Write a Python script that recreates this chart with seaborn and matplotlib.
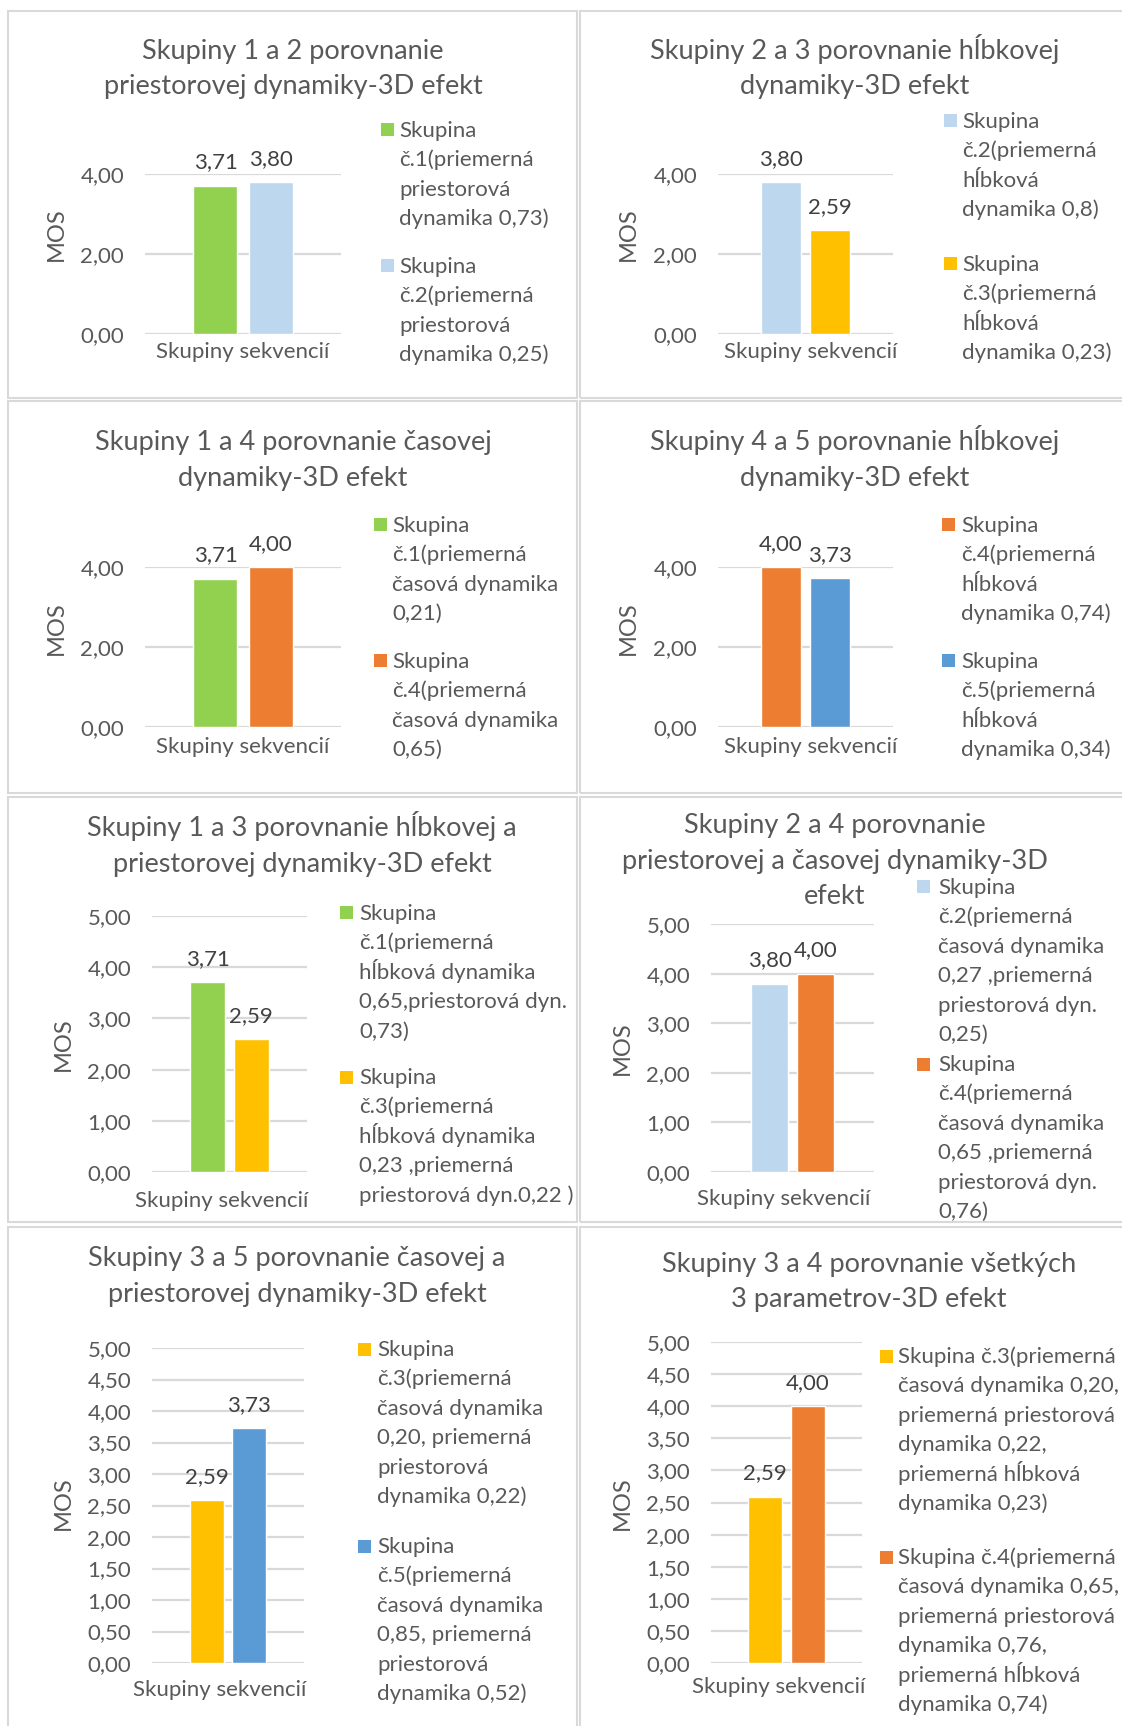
import numpy as np
import pandas as pd
import seaborn as sns
import matplotlib
matplotlib.use("Agg")
import matplotlib.pyplot as plt
import matplotlib.transforms as mtransforms
from matplotlib.patches import Rectangle

# ---------------------------------------------------------------- data
titles = [
    "Skupiny 1 a 2 porovnanie\npriestorovej dynamiky-3D efekt",
    "Skupiny 2 a 3 porovnanie hĺbkovej\ndynamiky-3D efekt",
    "Skupiny 1 a 4 porovnanie časovej\ndynamiky-3D efekt",
    "Skupiny 4 a 5 porovnanie hĺbkovej\ndynamiky-3D efekt",
    "Skupiny 1 a 3 porovnanie hĺbkovej a\npriestorovej dynamiky-3D efekt",
    "Skupiny 2 a 4 porovnanie\npriestorovej a časovej dynamiky-3D\nefekt",
    "Skupiny 3 a 5 porovnanie časovej a\npriestorovej dynamiky-3D efekt",
    "Skupiny 3 a 4 porovnanie všetkých\n3 parametrov-3D efekt",
]

category = "Skupiny sekvencií"

first_group = [1, 2, 1, 4, 1, 2, 3, 3]
second_group = [2, 3, 4, 5, 3, 4, 5, 4]

first_mos = [3.71, 3.80, 3.71, 4.00, 3.71, 3.80, 2.59, 2.59]
second_mos = [3.80, 2.59, 4.00, 3.73, 2.59, 4.00, 3.73, 4.00]

first_labels = [
    "Skupina\nč.1(priemerná\npriestorová\ndynamika 0,73)",
    "Skupina\nč.2(priemerná\nhĺbková\ndynamika 0,8)",
    "Skupina\nč.1(priemerná\nčasová dynamika\n0,21)",
    "Skupina\nč.4(priemerná\nhĺbková\ndynamika 0,74)",
    "Skupina\nč.1(priemerná\nhĺbková dynamika\n0,65,priestorová dyn.\n0,73)",
    "Skupina\nč.2(priemerná\nčasová dynamika\n0,27 ,priemerná\npriestorová dyn.\n0,25)",
    "Skupina\nč.3(priemerná\nčasová dynamika\n0,20, priemerná\npriestorová\ndynamika 0,22)",
    "Skupina č.3(priemerná\nčasová dynamika 0,20,\npriemerná priestorová\ndynamika 0,22,\npriemerná hĺbková\ndynamika 0,23)",
]
second_labels = [
    "Skupina\nč.2(priemerná\npriestorová\ndynamika 0,25)",
    "Skupina\nč.3(priemerná\nhĺbková\ndynamika 0,23)",
    "Skupina\nč.4(priemerná\nčasová dynamika\n0,65)",
    "Skupina\nč.5(priemerná\nhĺbková\ndynamika 0,34)",
    "Skupina\nč.3(priemerná\nhĺbková dynamika\n0,23 ,priemerná\npriestorová dyn.0,22 )",
    "Skupina\nč.4(priemerná\nčasová dynamika\n0,65 ,priemerná\npriestorová dyn.\n0,76)",
    "Skupina\nč.5(priemerná\nčasová dynamika\n0,85, priemerná\npriestorová\ndynamika 0,52)",
    "Skupina č.4(priemerná\nčasová dynamika 0,65,\npriemerná priestorová\ndynamika 0,76,\npriemerná hĺbková\ndynamika 0,74)",
]

y_max = [4, 4, 4, 4, 5, 5, 5, 5]
y_step = [2, 2, 2, 2, 1, 1, 0.5, 0.5]

# ---------------------------------------------------------------- styling
group_colors = {1: "#92D050", 2: "#BDD7EE", 3: "#FFC000", 4: "#ED7D31", 5: "#5B9BD5"}
TEXT = "#595959"
VALUE_TEXT = "#404040"
GRID = "#D9D9D9"

W, H = 1122, 1726

# plot areas in pixels: left, right, top, bottom
axes_px = [
    (145, 341, 174, 334), (718, 893, 174, 334),
    (145, 341, 567, 727), (718, 893, 567, 727),
    (152, 307, 916, 1172), (711, 874, 924, 1172),
    (152, 304, 1348, 1663), (711, 862, 1342, 1663),
]
# title centre x and the centre y of each title line
title_px = [
    (293, [50, 85]), (855, [50, 85]),
    (293, [441, 477]), (855, [441, 477]),
    (302, [827, 863]), (835, [824, 860, 895]),
    (297, [1257, 1293]), (869, [1263, 1298]),
]
# legend: swatch x, text x, first-line centre of entry 1 and entry 2
legend_px = [
    (381, 399, 130, 266), (944, 962, 121, 264),
    (374, 392, 525, 661), (942, 961, 525, 661),
    (340, 359, 913, 1077), (917, 938, 887, 1064),
    (358, 377, 1349, 1546), (880, 898, 1356, 1557),
]
# y-axis title anchor (right edge, centre y)
ylabel_px = [
    (67, 234), (639, 234),
    (67, 628), (639, 628),
    (74, 1044), (633, 1048),
    (74, 1503), (633, 1503),
]
xtick_pad = [6, 6, 7, 7, 14, 12, 12, 10]
# horizontal shift of the category label, pixels
xtick_dx = [0, 5, 0, 5, -8, -9, -8, -8]

# panel frames: left, right, top, bottom
frames_px = [
    (8, 577, 11, 398), (580, 1130, 11, 398),
    (8, 577, 401, 793), (580, 1130, 401, 793),
    (8, 577, 797, 1222), (580, 1130, 797, 1222),
    (8, 577, 1227, 1735), (580, 1130, 1227, 1735),
]

FS = 16
TITLE_FS = 19.5
LINE_STEP = 29.4
SWATCH = 13

sns.set_theme(style="white")
plt.rcParams["font.family"] = ["Lato", "DejaVu Sans"]


def fx(px):
    return px / W


def fy(py):
    return 1 - py / H


def comma(v):
    return f"{v:.2f}".replace(".", ",")


fig = plt.figure(figsize=(W / 100, H / 100), dpi=100, facecolor="white")

for (l, r, t, b) in frames_px:
    fig.add_artist(Rectangle((fx(l), fy(b)), (r - l) / W, (b - t) / H,
                             transform=fig.transFigure, fill=False,
                             edgecolor=GRID, linewidth=1.5))

for i in range(8):
    l, r, t, b = axes_px[i]
    ax = fig.add_axes([fx(l), fy(b), (r - l) / W, (b - t) / H])

    df = pd.DataFrame({
        "kategoria": [category, category],
        "MOS": [first_mos[i], second_mos[i]],
        "skupina": [f"č.{first_group[i]}", f"č.{second_group[i]}"],
    })
    palette = [group_colors[first_group[i]], group_colors[second_group[i]]]
    sns.barplot(data=df, x="kategoria", y="MOS", hue="skupina",
                palette=palette, saturation=1, width=0.562, gap=0.2,
                legend=False, ax=ax)

    for cont in ax.containers:
        ax.bar_label(cont, fmt=comma, padding=9.5, fontsize=FS, color=VALUE_TEXT)

    ax.set_xlim(-0.5, 0.5)
    ax.set_ylim(0, y_max[i])
    ticks = np.arange(0, y_max[i] + y_step[i] / 2, y_step[i])
    ax.set_yticks(ticks)
    ax.set_yticklabels([comma(v) for v in ticks])
    ax.grid(axis="y", color=GRID, linewidth=1.6)
    ax.grid(axis="x", visible=False)
    ax.set_axisbelow(True)
    for s in ax.spines.values():
        s.set_visible(False)
    ax.tick_params(axis="both", length=0, labelsize=FS, labelcolor=TEXT)
    ax.tick_params(axis="y", pad=15)
    ax.tick_params(axis="x", pad=xtick_pad[i])
    shift = mtransforms.ScaledTranslation(xtick_dx[i] / 100, 0, fig.dpi_scale_trans)
    for lab in ax.get_xticklabels():
        lab.set_transform(lab.get_transform() + shift)
    ax.set_xlabel("")
    ax.set_ylabel("MOS", fontsize=17, color=TEXT)
    lx, ly = ylabel_px[i]
    ax.yaxis.set_label_coords(fx(lx), fy(ly), transform=fig.transFigure)

    # title lines
    tx, tys = title_px[i]
    for line, ty in zip(titles[i].split("\n"), tys):
        fig.text(fx(tx), fy(ty + 9), line, ha="center", va="baseline",
                 fontsize=TITLE_FS, color=TEXT)

    # legend entries
    sx, txl, y1, y2 = legend_px[i]
    for label, grp, y0 in ((first_labels[i], first_group[i], y1),
                           (second_labels[i], second_group[i], y2)):
        fig.add_artist(Rectangle((fx(sx), fy(y0 + SWATCH / 2)), SWATCH / W, SWATCH / H,
                                 transform=fig.transFigure,
                                 facecolor=group_colors[grp], edgecolor="none"))
        for k, line in enumerate(label.split("\n")):
            fig.text(fx(txl), fy(y0 + k * LINE_STEP + 7), line, ha="left",
                     va="baseline", fontsize=FS, color=TEXT)

fig.savefig("out.png", dpi=100, facecolor="white")
